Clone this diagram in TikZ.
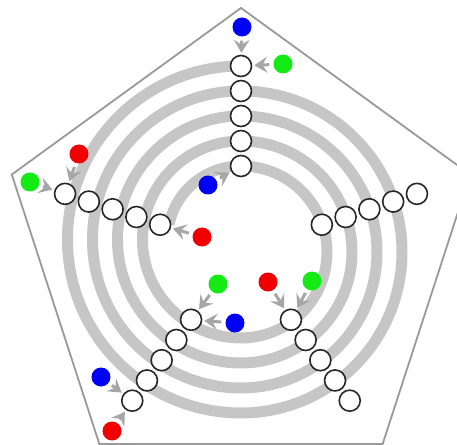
\documentclass[tikz,border=0pt]{standalone}
\usetikzlibrary{arrows.meta}
\definecolor{dotred}{RGB}{240,0,0}
\definecolor{dotgreen}{RGB}{20,235,20}
\definecolor{dotblue}{RGB}{0,0,245}
\begin{document}
\begin{tikzpicture}[x=1pt,y=1pt,
        frame/.style={draw=gray!80,line width=1.8pt},
        band/.style={draw=gray!45,line width=11pt},
        bead/.style={circle,draw=black!85,line width=1.6pt,fill=white,minimum size=21pt,inner sep=0pt},
        dot/.style={circle,minimum size=19pt,inner sep=0pt},
        feed/.style={draw=gray!70,line width=3pt,-{Stealth[length=13pt,width=16pt,inset=5pt]},shorten >=2pt,shorten <=4pt}]
        \useasboundingbox (-241,-193) rectangle (216,251);
        \draw[frame,shift={(0,2)}] (90:241) -- (162:241) -- (234:241) -- (306:241) -- (18:241) -- cycle;
        \draw[band] (-71.9,26.8) arc[start angle=168,end angle=90,radius=73.5]
            \foreach \r in {86,111,136,161}{
                arc[start angle=90,end angle=-90,radius=\r]
                arc[start angle=-90,end angle=-270,radius={\r+12.5}]};
        \foreach \ang [count=\arm] in {90,162,234,306,18}
            \foreach \k in {1,...,5}
                \node[bead] (b\arm-\k) at (\ang:{60+25*\k}) {};
        \node[dot,fill=dotblue] (d1) at (1,224) {};
        \node[dot,fill=dotgreen] (d2) at (42,187) {};
        \node[dot,fill=dotblue] (d3) at (-33,66) {};
        \node[dot,fill=dotgreen] (d4) at (-211,69) {};
        \node[dot,fill=dotred] (d5) at (-162,97) {};
        \node[dot,fill=dotred] (d6) at (-39,14) {};
        \node[dot,fill=dotgreen] (d7) at (-23,-33) {};
        \node[dot,fill=dotblue] (d8) at (-6,-72) {};
        \node[dot,fill=dotblue] (d9) at (-140,-126) {};
        \node[dot,fill=dotred] (d10) at (-129,-180) {};
        \node[dot,fill=dotred] (d11) at (27,-31) {};
        \node[dot,fill=dotgreen] (d12) at (71,-30) {};
        \draw[feed] (d1) -- (b1-5);
        \draw[feed] (d2) -- (b1-5);
        \draw[feed] (d3) -- (b1-1);
        \draw[feed] (d4) -- (b2-5);
        \draw[feed] (d5) -- (b2-5);
        \draw[feed] (d6) -- (b2-1);
        \draw[feed] (d7) -- (b3-1);
        \draw[feed] (d8) -- (b3-1);
        \draw[feed] (d9) -- (b3-5);
        \draw[feed] (d10) -- (b3-5);
        \draw[feed] (d11) -- (b4-1);
        \draw[feed] (d12) -- (b4-1);
\end{tikzpicture}
\end{document}
